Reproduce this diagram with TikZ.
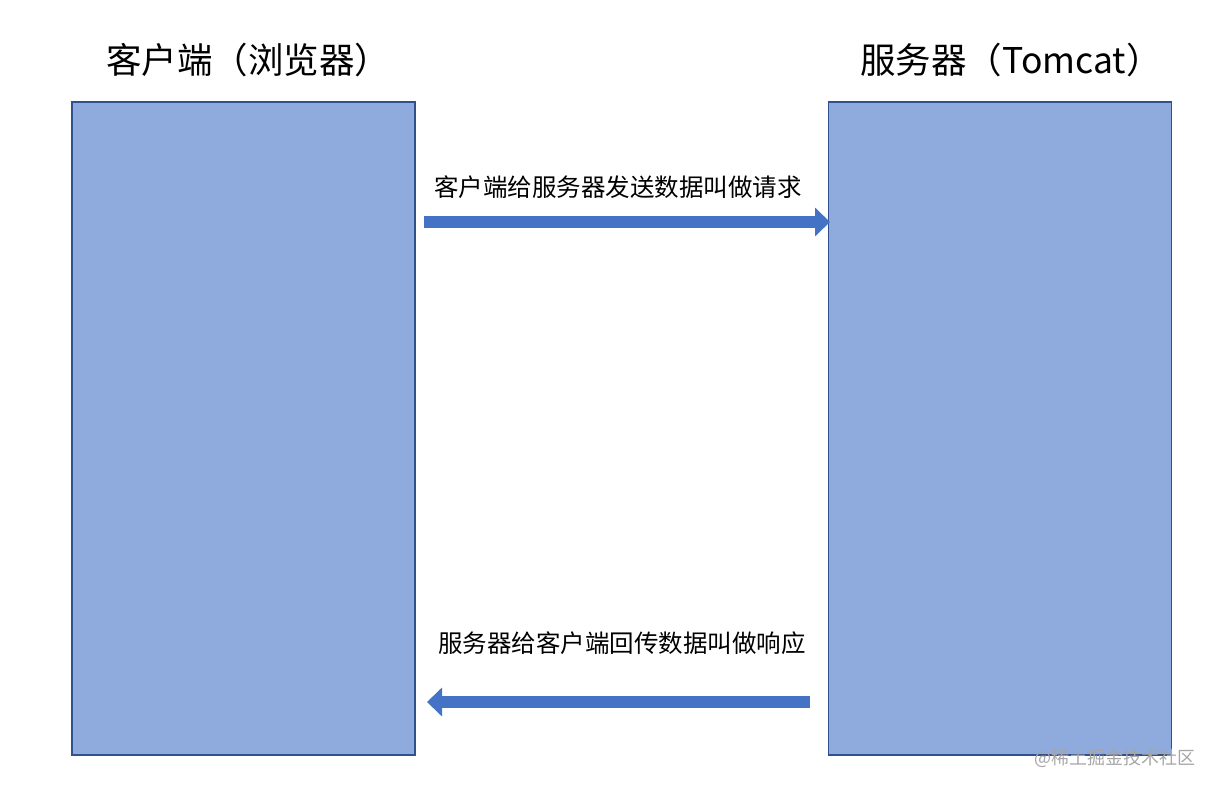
\documentclass[tikz,border=0pt]{standalone}
\usepackage{fontspec}
\setmainfont{Noto Sans CJK SC}
\usetikzlibrary{arrows.meta}
\definecolor{boxblue}{HTML}{8FAADC}
\definecolor{edgeblue}{HTML}{2F528F}
\definecolor{arrowblue}{HTML}{4472C4}
\tikzset{
  side/.style={rectangle, draw=edgeblue, fill=boxblue, line width=1.2pt, inner sep=0pt, minimum width=343pt, minimum height=653pt},
  title/.style={font=\fontsize{35.5}{40}\selectfont},
  msg/.style={font=\fontsize{24.5}{30}\selectfont},
  fatarrow/.style={arrowblue, line width=12pt, -{Triangle[width=28pt,length=15pt]}}
}
\begin{document}
\begin{tikzpicture}[x=1pt, y=-1pt]
\useasboundingbox (0,0) rectangle (1221,791);
\node[side] (client) at (243.5,428.5){};
\node[side] (server) at (1000,428.5){};
\node[title] (tclient) at (248,60){客户端（浏览器）};
\node[title] (tserver) at (1011,60){服务器（Tomcat）};
\node[msg] (req) at (618,187){客户端给服务器发送数据叫做请求};
\node[msg] (resp) at (622,643){服务器给客户端回传数据叫做响应};
\coordinate (reqa) at (424,222);
\coordinate (reqb) at (830,222);
\coordinate (respa) at (810,702);
\coordinate (respb) at (427,702);
\draw[fatarrow] (reqa) -- (reqb);
\draw[fatarrow] (respa) -- (respb);
\node[font=\fontsize{18}{20}\selectfont, text=black!35, anchor=east] (mark) at (1199,758){@稀土掘金技术社区};
\end{tikzpicture}
\end{document}
